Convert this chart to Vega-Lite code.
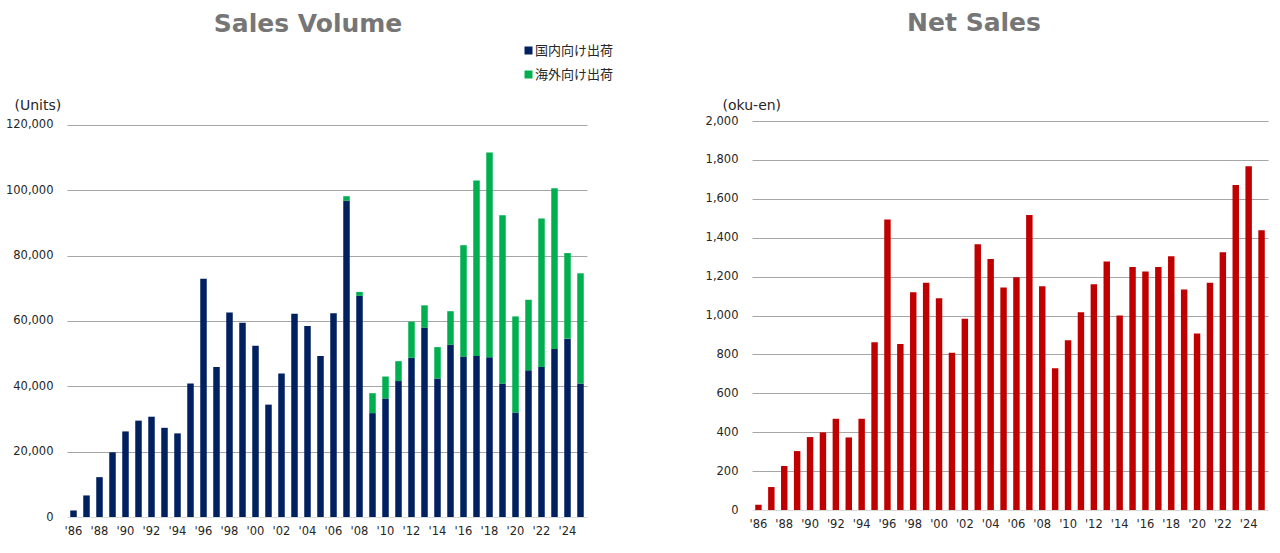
{
  "$schema": "https://vega.github.io/schema/vega-lite/v6.json",
  "background": "white",
  "padding": {"left": 5, "top": 11, "right": 10, "bottom": 5},
  "datasets": {
    "volume": [
      {"year": 1986, "type": "国内向け出荷", "units": 2000},
      {"year": 1987, "type": "国内向け出荷", "units": 6600},
      {"year": 1988, "type": "国内向け出荷", "units": 12200},
      {"year": 1989, "type": "国内向け出荷", "units": 19800},
      {"year": 1990, "type": "国内向け出荷", "units": 26200},
      {"year": 1991, "type": "国内向け出荷", "units": 29500},
      {"year": 1992, "type": "国内向け出荷", "units": 30700},
      {"year": 1993, "type": "国内向け出荷", "units": 27300},
      {"year": 1994, "type": "国内向け出荷", "units": 25600},
      {"year": 1995, "type": "国内向け出荷", "units": 40900},
      {"year": 1996, "type": "国内向け出荷", "units": 72900},
      {"year": 1997, "type": "国内向け出荷", "units": 45900},
      {"year": 1998, "type": "国内向け出荷", "units": 62600},
      {"year": 1999, "type": "国内向け出荷", "units": 59500},
      {"year": 2000, "type": "国内向け出荷", "units": 52400},
      {"year": 2001, "type": "国内向け出荷", "units": 34400},
      {"year": 2002, "type": "国内向け出荷", "units": 43900},
      {"year": 2003, "type": "国内向け出荷", "units": 62200},
      {"year": 2004, "type": "国内向け出荷", "units": 58500},
      {"year": 2005, "type": "国内向け出荷", "units": 49300},
      {"year": 2006, "type": "国内向け出荷", "units": 62400},
      {"year": 2007, "type": "国内向け出荷", "units": 96800},
      {"year": 2008, "type": "国内向け出荷", "units": 67700},
      {"year": 2009, "type": "国内向け出荷", "units": 31800},
      {"year": 2010, "type": "国内向け出荷", "units": 36300},
      {"year": 2011, "type": "国内向け出荷", "units": 41600},
      {"year": 2012, "type": "国内向け出荷", "units": 48700},
      {"year": 2013, "type": "国内向け出荷", "units": 58000},
      {"year": 2014, "type": "国内向け出荷", "units": 42400},
      {"year": 2015, "type": "国内向け出荷", "units": 52700},
      {"year": 2016, "type": "国内向け出荷", "units": 49100},
      {"year": 2017, "type": "国内向け出荷", "units": 49300},
      {"year": 2018, "type": "国内向け出荷", "units": 48900},
      {"year": 2019, "type": "国内向け出荷", "units": 40900},
      {"year": 2020, "type": "国内向け出荷", "units": 32000},
      {"year": 2021, "type": "国内向け出荷", "units": 44900},
      {"year": 2022, "type": "国内向け出荷", "units": 45900},
      {"year": 2023, "type": "国内向け出荷", "units": 51400},
      {"year": 2024, "type": "国内向け出荷", "units": 54600},
      {"year": 2025, "type": "国内向け出荷", "units": 40900},
      {"year": 2007, "type": "海外向け出荷", "units": 1400},
      {"year": 2008, "type": "海外向け出荷", "units": 1200},
      {"year": 2009, "type": "海外向け出荷", "units": 6100},
      {"year": 2010, "type": "海外向け出荷", "units": 6700},
      {"year": 2011, "type": "海外向け出荷", "units": 6100},
      {"year": 2012, "type": "海外向け出荷", "units": 11100},
      {"year": 2013, "type": "海外向け出荷", "units": 6800},
      {"year": 2014, "type": "海外向け出荷", "units": 9600},
      {"year": 2015, "type": "海外向け出荷", "units": 10300},
      {"year": 2016, "type": "海外向け出荷", "units": 34100},
      {"year": 2017, "type": "海外向け出荷", "units": 53700},
      {"year": 2018, "type": "海外向け出荷", "units": 62700},
      {"year": 2019, "type": "海外向け出荷", "units": 51500},
      {"year": 2020, "type": "海外向け出荷", "units": 29400},
      {"year": 2021, "type": "海外向け出荷", "units": 21600},
      {"year": 2022, "type": "海外向け出荷", "units": 45500},
      {"year": 2023, "type": "海外向け出荷", "units": 49200},
      {"year": 2024, "type": "海外向け出荷", "units": 26200},
      {"year": 2025, "type": "海外向け出荷", "units": 33700}
    ],
    "sales": [
      {"year": 1986, "sales": 27},
      {"year": 1987, "sales": 118},
      {"year": 1988, "sales": 226},
      {"year": 1989, "sales": 303},
      {"year": 1990, "sales": 375},
      {"year": 1991, "sales": 399},
      {"year": 1992, "sales": 469},
      {"year": 1993, "sales": 373},
      {"year": 1994, "sales": 469},
      {"year": 1995, "sales": 863},
      {"year": 1996, "sales": 1493},
      {"year": 1997, "sales": 853},
      {"year": 1998, "sales": 1120},
      {"year": 1999, "sales": 1168},
      {"year": 2000, "sales": 1089},
      {"year": 2001, "sales": 808},
      {"year": 2002, "sales": 983},
      {"year": 2003, "sales": 1366},
      {"year": 2004, "sales": 1291},
      {"year": 2005, "sales": 1144},
      {"year": 2006, "sales": 1197},
      {"year": 2007, "sales": 1517},
      {"year": 2008, "sales": 1151},
      {"year": 2009, "sales": 729},
      {"year": 2010, "sales": 873},
      {"year": 2011, "sales": 1017},
      {"year": 2012, "sales": 1161},
      {"year": 2013, "sales": 1277},
      {"year": 2014, "sales": 1000},
      {"year": 2015, "sales": 1250},
      {"year": 2016, "sales": 1226},
      {"year": 2017, "sales": 1250},
      {"year": 2018, "sales": 1305},
      {"year": 2019, "sales": 1134},
      {"year": 2020, "sales": 908},
      {"year": 2021, "sales": 1168},
      {"year": 2022, "sales": 1325},
      {"year": 2023, "sales": 1671},
      {"year": 2024, "sales": 1767},
      {"year": 2025, "sales": 1438}
    ]
  },
  "config": {
    "view": {"stroke": null},
    "font": "DejaVu Sans",
    "axis": {
      "labelFont": "DejaVu Sans",
      "labelFontSize": 11.5,
      "labelColor": "#262626",
      "titleFont": "DejaVu Sans",
      "titleFontSize": 14,
      "titleFontWeight": "normal",
      "titleColor": "#262626",
      "ticks": false,
      "tickSize": 0,
      "domain": false,
      "gridWidth": 1
    },
    "axisX": {"grid": false, "labelPadding": 8, "labelAngle": 0},
    "axisY": {
      "labelPadding": 14,
      "gridColor": {"condition": {"test": "datum.value === 0", "value": "#d9d9d9"}, "value": "#a6a6a6"}
    },
    "title": {
      "font": "DejaVu Sans",
      "fontSize": 25,
      "fontWeight": "bold",
      "color": "#767676",
      "anchor": "middle",
      "frame": "group"
    },
    "legend": {
      "labelFont": "Noto Sans CJK JP",
      "labelFontSize": 13,
      "labelColor": "#262626",
      "symbolType": "square",
      "symbolSize": 64,
      "symbolStrokeWidth": 0,
      "rowPadding": 10,
      "labelOffset": 0
    }
  },
  "spacing": 118,
  "hconcat": [
    {
      "width": 520,
      "height": 396,
      "title": {"text": "Sales Volume", "dx": -19, "offset": 61},
      "data": {"name": "volume"},
      "mark": {"type": "bar"},
      "encoding": {
        "x": {
          "field": "year",
          "type": "ordinal",
          "scale": {"paddingInner": 0.5, "paddingOuter": 0.25},
          "axis": {
            "title": null,
            "values": [1986, 1988, 1990, 1992, 1994, 1996, 1998, 2000, 2002, 2004, 2006, 2008, 2010, 2012, 2014, 2016, 2018, 2020, 2022, 2024],
            "labelExpr": "\"'\" + slice(toString(datum.value), 2)"
          }
        },
        "y": {
          "field": "units",
          "type": "quantitative",
          "stack": "zero",
          "scale": {"domain": [0, 121224], "nice": false},
          "axis": {
            "values": [0, 20000, 40000, 60000, 80000, 100000, 120000],
            "format": ",.0f",
            "title": "(Units)",
            "titleAngle": 0,
            "titleAlign": "left",
            "titleBaseline": "alphabetic",
            "titleX": -53,
            "titleY": -12
          }
        },
        "color": {
          "field": "type",
          "type": "nominal",
          "scale": {"domain": ["国内向け出荷", "海外向け出荷"], "range": ["#002060", "#00b050"]},
          "legend": {"title": null, "orient": "none", "legendX": 455, "legendY": -77}
        },
        "order": {"field": "type", "sort": "ascending"}
      }
    },
    {
      "width": 516,
      "height": 389,
      "title": {"text": "Net Sales", "dx": -36, "offset": 62},
      "data": {"name": "sales"},
      "mark": {"type": "bar", "color": "#c00000"},
      "encoding": {
        "x": {
          "field": "year",
          "type": "ordinal",
          "scale": {"paddingInner": 0.5, "paddingOuter": 0.25},
          "axis": {
            "title": null,
            "values": [1986, 1988, 1990, 1992, 1994, 1996, 1998, 2000, 2002, 2004, 2006, 2008, 2010, 2012, 2014, 2016, 2018, 2020, 2022, 2024],
            "labelExpr": "\"'\" + slice(toString(datum.value), 2)"
          }
        },
        "y": {
          "field": "sales",
          "type": "quantitative",
          "scale": {"domain": [0, 2000]},
          "axis": {
            "values": [0, 200, 400, 600, 800, 1000, 1200, 1400, 1600, 1800, 2000],
            "format": ",.0f",
            "title": "(oku-en)",
            "titleAngle": 0,
            "titleAlign": "left",
            "titleBaseline": "alphabetic",
            "titleX": -30,
            "titleY": -12
          }
        }
      }
    }
  ]
}
